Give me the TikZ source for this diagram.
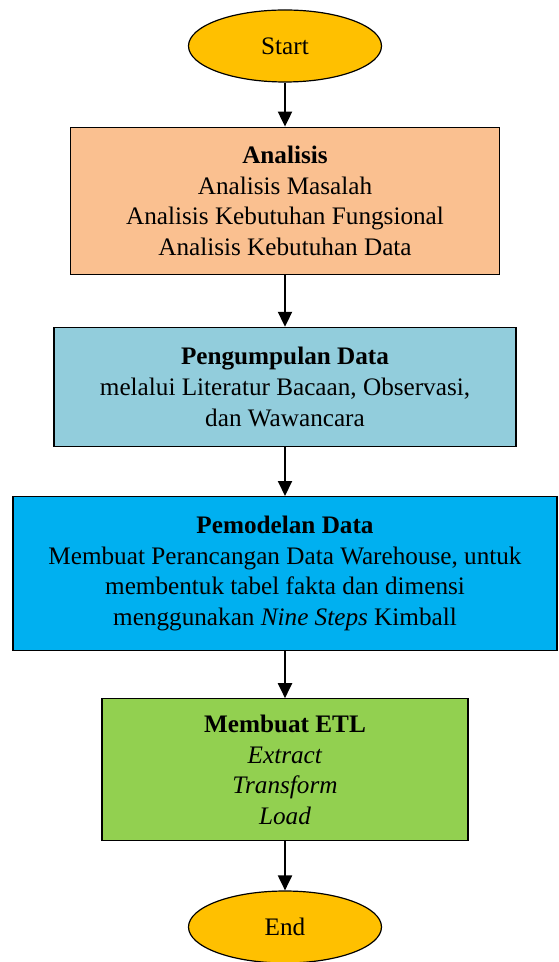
\documentclass[tikz,border=0pt]{standalone}
\usepackage{fontspec}
\setmainfont{Liberation Serif}
\usepackage{tikz}
\usetikzlibrary{shapes, arrows.meta, positioning}

\definecolor{termgold}{HTML}{FFC000}
\definecolor{anaorange}{HTML}{FAC090}
\definecolor{kumpulaqua}{HTML}{92CDDC}
\definecolor{modelblue}{HTML}{00B0F0}
\definecolor{etlgreen}{HTML}{92D050}

\begin{document}
\begin{tikzpicture}[
        every node/.style={font=\fontsize{12.6}{15.3}\selectfont},
        term/.style={ellipse, draw=black, line width=0.6pt, fill=termgold, minimum width=96.5pt, minimum height=36pt, inner sep=0pt},
        proc/.style={rectangle, draw=black, line width=0.6pt, align=center, inner sep=2pt},
        arrow/.style={-{Triangle[width=7pt,length=7.5pt]}, line width=1pt}
    ]
        \useasboundingbox (0,0) rectangle (279pt,-481pt);

        \node[term] (start) at (142.5pt,-23pt) {Start};
        \node[proc, fill=anaorange, minimum width=214.5pt, minimum height=73.5pt, below=22pt of start] (analisis)
            {\textbf{Analisis}\\ Analisis Masalah\\ Analisis Kebutuhan Fungsional\\ Analisis Kebutuhan Data};
        \node[proc, fill=kumpulaqua, minimum width=231pt, minimum height=59.5pt, below=26pt of analisis] (kumpul)
            {\textbf{Pengumpulan Data}\\ melalui Literatur Bacaan, Observasi,\\ dan Wawancara};
        \node[proc, fill=modelblue, minimum width=272pt, minimum height=77pt, below=24.5pt of kumpul] (model)
            {\textbf{Pemodelan Data}\\ Membuat Perancangan Data Warehouse, untuk\\ membentuk tabel fakta dan dimensi\\ menggunakan \textit{Nine Steps} Kimball};
        \node[proc, fill=etlgreen, minimum width=183pt, minimum height=71pt, below=23.5pt of model] (etl)
            {\textbf{Membuat ETL}\\ \textit{Extract}\\ \textit{Transform}\\ \textit{Load}};
        \node[term, below=24.5pt of etl] (end) {End};

        % Arrows
        \draw[arrow] (start) -- (analisis);
        \draw[arrow] (analisis) -- (kumpul);
        \draw[arrow] (kumpul) -- (model);
        \draw[arrow] (model) -- (etl);
        \draw[arrow] (etl) -- (end);

    \end{tikzpicture}
\end{document}
